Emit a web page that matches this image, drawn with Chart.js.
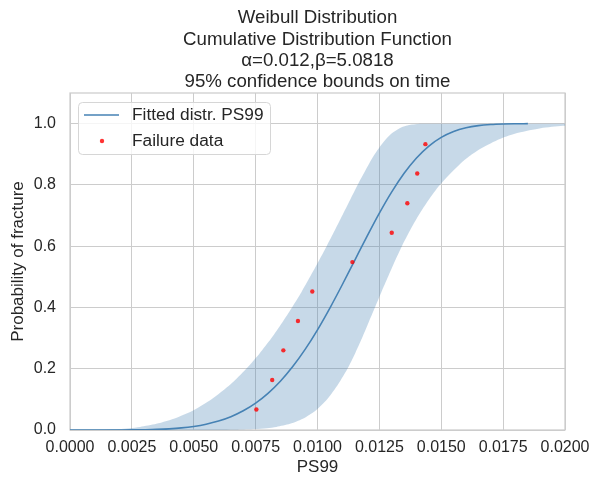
<!DOCTYPE html>
<html>
<head>
<meta charset="utf-8">
<script src="https://cdn.jsdelivr.net/npm/chart.js@4.4.0/dist/chart.umd.min.js"></script>
<style>
  html, body { margin: 0; padding: 0; background: #fff; }
  canvas { display: block; }
</style>
</head>
<body>
<canvas id="weibullChart" width="601" height="490"></canvas>
<script>
// titles
const titleLines = ['Weibull Distribution', 'Cumulative Distribution Function', 'α=0.012,β=5.0818', '95% confidence bounds on time'];
const xTitle = 'PS99';
const yTitle = 'Probability of fracture';

// tick values
const xTicks = [0, 0.0025, 0.005, 0.0075, 0.01, 0.0125, 0.015, 0.0175, 0.02];
const yTicks = [0, 0.2, 0.4, 0.6, 0.8, 1.0];

// fitted CDF
const fitX = [0, 0.0005, 0.001, 0.0015, 0.002, 0.0025, 0.003, 0.0035, 0.004, 0.0045, 0.005, 0.0055, 0.006, 0.0065, 0.007, 0.0075, 0.008, 0.0085, 0.009, 0.0095, 0.010, 0.0105, 0.011, 0.0115, 0.012, 0.0125, 0.013, 0.0135, 0.014, 0.0145, 0.015, 0.0155, 0.016, 0.0165, 0.017, 0.0175, 0.018, 0.0185];
const fitY = [0, 0, 0, 0, 0.0001, 0.0003, 0.0009, 0.0019, 0.0038, 0.0068, 0.0116, 0.0188, 0.0291, 0.0434, 0.0626, 0.0877, 0.1196, 0.1592, 0.2069, 0.2630, 0.3269, 0.3979, 0.4741, 0.5531, 0.6321, 0.7079, 0.7773, 0.8379, 0.8880, 0.9269, 0.9553, 0.9746, 0.9866, 0.9936, 0.9972, 0.9989, 0.9996, 0.9999];

// failure data
const failX = [0.00753, 0.00817, 0.00862, 0.00921, 0.00979, 0.01141, 0.01300, 0.01363, 0.01403, 0.01436];
const failY = [0.067, 0.163, 0.260, 0.356, 0.452, 0.548, 0.644, 0.740, 0.837, 0.933];

// 95% bounds on time: probability levels, lower time (left edge), upper time (right edge)
const bandF = [0, 0.0001, 0.001, 0.003, 0.006, 0.01, 0.02, 0.04, 0.065, 0.1, 0.15, 0.2, 0.25, 0.3, 0.35, 0.4, 0.45, 0.5, 0.55, 0.6, 0.65, 0.7, 0.75, 0.8, 0.87, 0.9, 0.92, 0.95, 0.97, 0.985, 0.993, 0.997, 0.999, 0.9995, 0.9999];
const bandLow = [0, 0.00070, 0.00140, 0.00196, 0.00242, 0.00283, 0.00349, 0.00431, 0.00501, 0.00572, 0.00650, 0.00712, 0.00766, 0.00814, 0.00857, 0.00897, 0.00935, 0.00970, 0.01004, 0.01037, 0.01069, 0.01100, 0.01131, 0.01162, 0.01209, 0.01231, 0.01248, 0.01277, 0.01303, 0.01332, 0.01358, 0.01382, 0.01408, 0.01422, 0.01451];
const bandHigh = [0, 0.00552, 0.00677, 0.00748, 0.00796, 0.00834, 0.00889, 0.00949, 0.00995, 0.01039, 0.01084, 0.01121, 0.01152, 0.01180, 0.01206, 0.01232, 0.01258, 0.01285, 0.01312, 0.01341, 0.01373, 0.01408, 0.01448, 0.01494, 0.01578, 0.01624, 0.01662, 0.01737, 0.01811, 0.01902, 0.01992, 0.02083, 0.02188, 0.02249, 0.02378];

const lineColor = '#4682b4';
const textColor = '#262626';
const gridColor = '#cccccc';
const fontFamily = '"Liberation Sans", Arial, sans-serif';

const toPts = (xs, ys) => xs.map((x, i) => ({ x: x, y: ys[i] }));

// band polygon: up the left edge, back down the right edge
const bandPts = toPts(bandLow, bandF).concat(toPts(bandHigh, bandF).reverse());

const boxAndText = {
    id: 'boxAndText',
    beforeDatasetsDraw(chart) {
        const a = chart.chartArea;
        const ctx = chart.ctx;
        ctx.save();
        ctx.strokeStyle = gridColor;
        ctx.lineWidth = 1.25;
        ctx.strokeRect(a.left, a.top, a.right - a.left, a.bottom - a.top);
        ctx.restore();
    },
    afterDatasetsDraw(chart) {
        const a = chart.chartArea;
        const ctx = chart.ctx;
        const cx = (a.left + a.right) / 2;
        ctx.save();
        ctx.fillStyle = textColor;
        ctx.textAlign = 'center';
        ctx.textBaseline = 'middle';
        ctx.font = '18.7px ' + fontFamily;
        titleLines.forEach((t, i) => ctx.fillText(t, cx, 18 + i * 21.4));
        ctx.font = '17px ' + fontFamily;
        ctx.fillText(xTitle, cx, 467);
        ctx.save();
        ctx.translate(18, (a.top + a.bottom) / 2);
        ctx.rotate(-Math.PI / 2);
        ctx.fillText(yTitle, 0, 0);
        ctx.restore();

        // legend
        const lx = a.left + 8.5, ly = a.top + 9.5, lw = 192, lh = 52;
        ctx.beginPath();
        ctx.roundRect(lx, ly, lw, lh, 4);
        ctx.fillStyle = 'rgba(255,255,255,0.8)';
        ctx.fill();
        ctx.strokeStyle = '#d6d6d6';
        ctx.lineWidth = 1;
        ctx.stroke();

        ctx.beginPath();
        ctx.moveTo(a.left + 14, a.top + 22);
        ctx.lineTo(a.left + 49, a.top + 22);
        ctx.strokeStyle = lineColor;
        ctx.lineWidth = 1.6;
        ctx.stroke();

        ctx.beginPath();
        ctx.arc(a.left + 32, a.top + 48, 2.2, 0, Math.PI * 2);
        ctx.fillStyle = 'rgba(255,0,0,0.8)';
        ctx.fill();

        ctx.fillStyle = textColor;
        ctx.textAlign = 'left';
        ctx.font = '17.3px ' + fontFamily;
        ctx.fillText('Fitted distr. PS99', a.left + 62, a.top + 22);
        ctx.fillText('Failure data', a.left + 62, a.top + 48);
        ctx.restore();
    }
};

const ctx = document.getElementById('weibullChart').getContext('2d');
new Chart(ctx, {
    type: 'scatter',
    data: {
        datasets: [{
            label: 'Failure data',
            data: toPts(failX, failY),
            backgroundColor: 'rgba(255,0,0,0.8)',
            borderWidth: 0,
            pointRadius: 2.2,
            order: 0
        }, {
            label: 'Fitted distr. PS99',
            data: toPts(fitX, fitY),
            showLine: true,
            borderColor: lineColor,
            borderWidth: 1.6,
            pointRadius: 0,
            cubicInterpolationMode: 'monotone',
            fill: false,
            order: 1
        }, {
            label: 'bounds',
            data: bandPts,
            showLine: true,
            borderWidth: 0,
            borderColor: 'rgba(0,0,0,0)',
            backgroundColor: 'rgba(70,130,180,0.3)',
            pointRadius: 0,
            tension: 0.25,
            fill: 'shape',
            order: 2
        }]
    },
    options: {
        responsive: false,
        animation: false,
        layout: { padding: { top: 93, right: 36, left: 0, bottom: 0 } },
        plugins: {
            legend: { display: false },
            tooltip: { enabled: false }
        },
        scales: {
            x: {
                type: 'linear',
                min: 0,
                max: 0.02,
                afterFit: s => { s.height = 60; },
                afterBuildTicks: s => { s.ticks = xTicks.map(v => ({ value: v })); },
                grid: { color: gridColor, lineWidth: 1, drawTicks: false },
                border: { display: false },
                ticks: {
                    color: textColor,
                    padding: 8,
                    font: { size: 16, family: fontFamily },
                    maxRotation: 0,
                    callback: v => v.toFixed(4)
                }
            },
            y: {
                type: 'linear',
                min: 0,
                max: 1.1,
                afterFit: s => { s.width = 70; },
                afterBuildTicks: s => { s.ticks = yTicks.map(v => ({ value: v })); },
                grid: { color: gridColor, lineWidth: 1, drawTicks: false },
                border: { display: false },
                ticks: {
                    color: textColor,
                    padding: 14,
                    font: { size: 16, family: fontFamily },
                    callback: v => v.toFixed(1)
                }
            }
        }
    },
    plugins: [boxAndText]
});
</script>
</body>
</html>
